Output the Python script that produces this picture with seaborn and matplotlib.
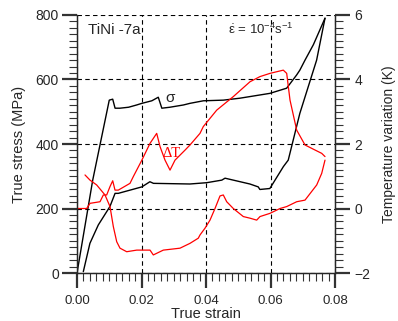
"""
Stress and temperature variation vs strain for TiNi.
"""
import matplotlib
matplotlib.use('Agg')
import numpy as np
import pandas
import seaborn as sns
from matplotlib import pyplot as plt
from matplotlib.ticker import MultipleLocator, FormatStrFormatter

# black curve: true stress (MPa), loading then unloading
load_strain = [0.0, 0.00487, 0.0100, 0.01107, 0.0118, 0.0133, 0.0160, 0.0185, 0.0201, 0.0232,
               0.0252, 0.0263, 0.0288, 0.0330, 0.0350, 0.0392, 0.0454, 0.0505, 0.0598, 0.0650,
               0.0681, 0.0691, 0.0707, 0.0733, 0.0769]
load_stress = [0, 288, 536, 539, 511, 511, 514, 521, 526, 534,
               545, 511, 514, 521, 526, 534, 536, 542, 557, 573,
               614, 629, 660, 708, 790]
unload_strain = [0.0769, 0.0743, 0.0691, 0.0655, 0.0640, 0.0598, 0.0567, 0.0562, 0.0536, 0.0459,
                 0.0449, 0.0402, 0.0350, 0.0237, 0.0226, 0.0201, 0.0128, 0.0118, 0.0102, 0.0066,
                 0.0040, 0.00195]
unload_stress = [790, 660, 495, 350, 330, 262, 259, 267, 276, 294,
                 288, 280, 276, 278, 283, 267, 247, 247, 206, 149,
                 92, 4]

# red curve: temperature variation (K)
heat_strain = [0.0001, 0.0030, 0.00403, 0.00713, 0.00816, 0.0092, 0.01023, 0.01107, 0.01178, 0.0128,
               0.01643, 0.01746, 0.0185, 0.02006, 0.02264, 0.02471, 0.02574, 0.02729, 0.02884, 0.03039,
               0.03349, 0.03504, 0.03814, 0.03916, 0.04332, 0.04847, 0.05364, 0.05674, 0.05984, 0.06397,
               0.06502, 0.06605, 0.06812, 0.0707, 0.07327, 0.07588, 0.0769]
heat_temp = [0.0, 0.0, 0.16, 0.21, 0.42, 0.42, 0.68, 0.86, 0.57, 0.57,
             0.78, 0.99, 1.19, 1.49, 2.02, 2.33, 1.92, 1.50, 1.19, 1.50,
             1.81, 1.97, 2.33, 2.54, 3.05, 3.47, 3.93, 4.09, 4.19, 4.29,
             4.19, 3.36, 2.43, 1.97, 1.84, 1.71, 1.61]
cool_strain = [0.0769, 0.07588, 0.07433, 0.0707, 0.06812, 0.06502, 0.06295, 0.05984, 0.05674, 0.05572,
               0.05364, 0.05157, 0.04847, 0.04642, 0.04536, 0.04434, 0.04279, 0.04124, 0.03969, 0.03814,
               0.03761, 0.03504, 0.03194, 0.02676, 0.02366, 0.02264, 0.02161, 0.01851, 0.01541, 0.01333,
               0.01231, 0.01126, 0.01023, 0.00868, 0.0061, 0.00403, 0.00248]
cool_temp = [1.50, 1.09, 0.73, 0.26, 0.21, 0.06, 0.0, -0.15, -0.25, -0.36,
             -0.30, -0.25, 0.0, 0.21, 0.42, 0.39, 0.0, -0.36, -0.61, -0.82,
             -0.92, -1.08, -1.23, -1.29, -1.44, -1.29, -1.29, -1.29, -1.34, -1.23,
             -1.03, -0.56, 0.06, 0.42, 0.73, 0.88, 1.04]

sns.set_style("white")
plt.rcParams['font.family'] = ['Liberation Sans', 'DejaVu Sans']
plt.rcParams['mathtext.fontset'] = 'custom'
plt.rcParams['mathtext.rm'] = 'Liberation Sans'
plt.rcParams['mathtext.it'] = 'Liberation Sans:italic'

stress = pandas.concat([
    pandas.DataFrame({'strain': load_strain, 'value': load_stress, 'branch': 'load'}),
    pandas.DataFrame({'strain': unload_strain, 'value': unload_stress, 'branch': 'unload'})])
temp = pandas.concat([
    pandas.DataFrame({'strain': heat_strain, 'value': heat_temp, 'branch': 'load'}),
    pandas.DataFrame({'strain': cool_strain, 'value': cool_temp, 'branch': 'unload'})])

f, ax = plt.subplots(figsize=(3.98, 3.21), dpi=100)
f.subplots_adjust(left=0.1935, right=0.8417, top=0.9533, bottom=0.1495)
ax2 = ax.twinx()

sns.lineplot(data=stress, x='strain', y='value', units='branch', estimator=None, sort=False,
             color='black', lw=1.0, ax=ax)
sns.lineplot(data=temp, x='strain', y='value', units='branch', estimator=None, sort=False,
             color='red', lw=0.9, ax=ax2)

ax.set(xlim=(0, 0.08), ylim=(0, 800))
ax2.set(ylim=(-2, 6))
ax.xaxis.set_major_locator(MultipleLocator(0.02))
ax.xaxis.set_minor_locator(MultipleLocator(0.002))
ax.yaxis.set_major_locator(MultipleLocator(200))
ax.yaxis.set_minor_locator(MultipleLocator(20))
ax2.yaxis.set_major_locator(MultipleLocator(2))
ax2.yaxis.set_minor_locator(MultipleLocator(0.2))
ax.xaxis.set_major_formatter(FormatStrFormatter('%.2f'))

for a in (ax, ax2):
    a.tick_params(which='major', direction='out', length=11, width=1.6, labelsize=10, color='#333333')
    a.tick_params(which='minor', direction='out', length=6, width=0.8, color='#333333')
    a.spines['top'].set_visible(False)
    for s in a.spines.values():
        s.set_linewidth(0.9)
ax.tick_params(axis='x', which='both', bottom=True, top=False)
ax.tick_params(axis='x', which='major', pad=5, labelsize=9.5)
ax.tick_params(axis='y', which='both', left=True, right=False)
ax.tick_params(axis='y', which='major', pad=2)
ax2.tick_params(axis='y', which='both', right=True, left=False)
ax2.tick_params(axis='y', which='major', pad=3)

ax.grid(which='major', color='black', lw=0.8, linestyle=(0, (4, 3)))
ax.set_xlabel('True strain', fontsize=10.5, labelpad=0)
ax.set_ylabel('True stress (MPa)', fontsize=10.5, labelpad=7)
ax2.set_ylabel('Temperature variation (K)', fontsize=10, labelpad=8)

ax.text(0.0034, 740, 'TiNi -7a', fontsize=11)
ax.text(0.0468, 742, r'$\dot{\mathrm{\epsilon}}$ = 10$^{-4}$s$^{-1}$', fontsize=9.5)
ax.text(0.0273, 530, 'σ', fontsize=11)
ax.text(0.0265, 361, 'ΔT', fontsize=10.5, color='red', family=['Liberation Serif', 'DejaVu Serif'])

f.savefig('out.png', dpi=100)
